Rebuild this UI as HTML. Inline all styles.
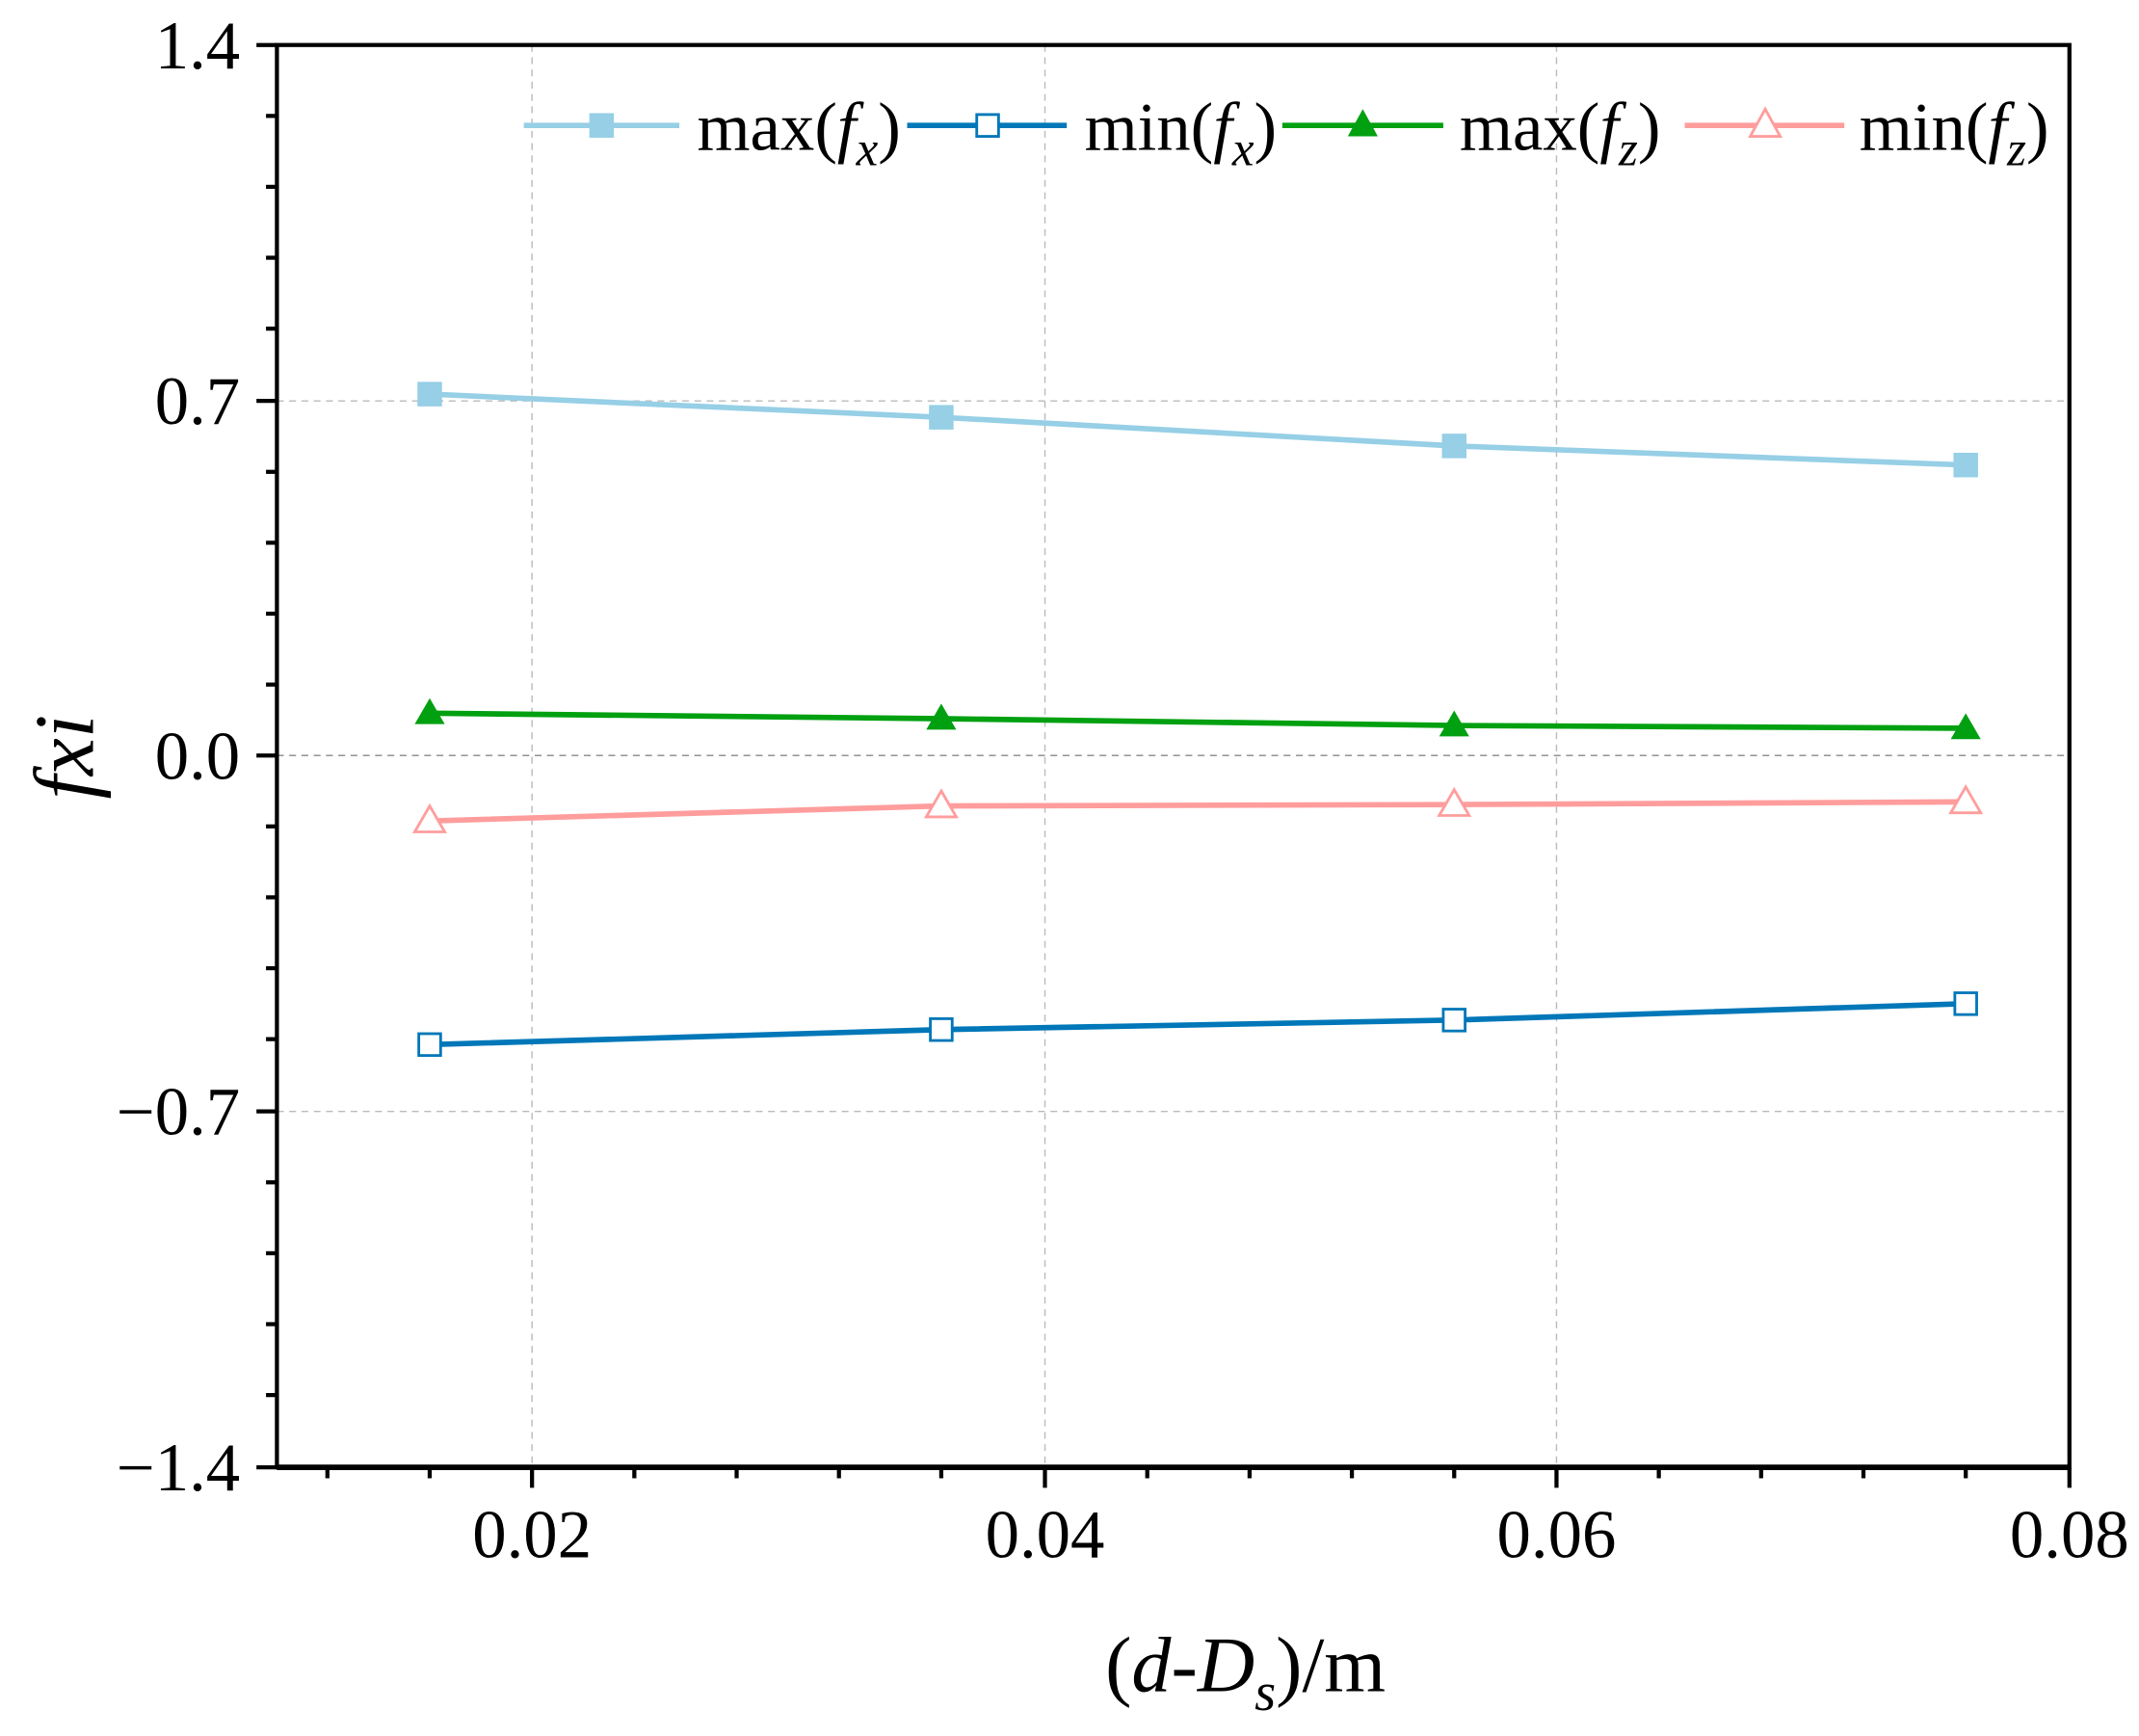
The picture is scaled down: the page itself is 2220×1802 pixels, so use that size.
<!DOCTYPE html>
<html><head><style>html,body{margin:0;padding:0;background:#fff}svg{display:block}text{font-family:"Liberation Serif","Times New Roman",serif}</style></head>
<body>
<svg width="2220" height="1802" viewBox="0 0 1568 1273" preserveAspectRatio="none" xmlns="http://www.w3.org/2000/svg">
<g stroke="#bbb" stroke-width="1" stroke-dasharray="5,4">
<line x1="390" y1="33" x2="390" y2="1076"/><line x1="766" y1="33" x2="766" y2="1076"/><line x1="1141" y1="33" x2="1141" y2="1076"/>
<line x1="203" y1="294" x2="1517" y2="294"/><line x1="203" y1="815" x2="1517" y2="815"/>
</g>
<line x1="203" y1="554" x2="1517" y2="554" stroke="#888" stroke-width="1" stroke-dasharray="5,4"/>
<g stroke="#000" stroke-width="3">
<rect x="203" y="33" width="1314" height="1043" fill="none"/>
<line x1="203" y1="1076" x2="1517" y2="1076" stroke-width="4"/>
<line x1="188" y1="33" x2="203" y2="33"/><line x1="188" y1="294" x2="203" y2="294"/><line x1="188" y1="554" x2="203" y2="554"/><line x1="188" y1="815" x2="203" y2="815"/><line x1="188" y1="1076" x2="203" y2="1076"/>
<line x1="195" y1="85" x2="203" y2="85"/><line x1="195" y1="137" x2="203" y2="137"/><line x1="195" y1="189" x2="203" y2="189"/><line x1="195" y1="241" x2="203" y2="241"/>
<line x1="195" y1="346" x2="203" y2="346"/><line x1="195" y1="398" x2="203" y2="398"/><line x1="195" y1="450" x2="203" y2="450"/><line x1="195" y1="502" x2="203" y2="502"/>
<line x1="195" y1="606" x2="203" y2="606"/><line x1="195" y1="658" x2="203" y2="658"/><line x1="195" y1="710" x2="203" y2="710"/><line x1="195" y1="762" x2="203" y2="762"/>
<line x1="195" y1="867" x2="203" y2="867"/><line x1="195" y1="919" x2="203" y2="919"/><line x1="195" y1="971" x2="203" y2="971"/><line x1="195" y1="1023" x2="203" y2="1023"/>
<line x1="390" y1="1076" x2="390" y2="1091"/><line x1="766" y1="1076" x2="766" y2="1091"/><line x1="1141" y1="1076" x2="1141" y2="1091"/><line x1="1517" y1="1076" x2="1517" y2="1091"/>
<line x1="240" y1="1076" x2="240" y2="1084"/><line x1="315" y1="1076" x2="315" y2="1084"/><line x1="465" y1="1076" x2="465" y2="1084"/><line x1="540" y1="1076" x2="540" y2="1084"/><line x1="615" y1="1076" x2="615" y2="1084"/><line x1="690" y1="1076" x2="690" y2="1084"/><line x1="841" y1="1076" x2="841" y2="1084"/><line x1="916" y1="1076" x2="916" y2="1084"/><line x1="991" y1="1076" x2="991" y2="1084"/><line x1="1066" y1="1076" x2="1066" y2="1084"/><line x1="1216" y1="1076" x2="1216" y2="1084"/><line x1="1291" y1="1076" x2="1291" y2="1084"/><line x1="1366" y1="1076" x2="1366" y2="1084"/><line x1="1441" y1="1076" x2="1441" y2="1084"/>
</g>
<g font-size="50" text-anchor="end" fill="#000">
<text x="176" y="50">1.4</text><text x="176" y="311">0.7</text><text x="176" y="571">0.0</text><text x="176" y="832">−0.7</text><text x="176" y="1093">−1.4</text>
</g>
<g font-size="50" text-anchor="middle">
<text x="390" y="1142">0.02</text><text x="766" y="1142">0.04</text><text x="1141" y="1142">0.06</text><text x="1517" y="1142">0.08</text>
</g>
<text x="913" y="1240" font-size="58" text-anchor="middle">(<tspan font-style="italic">d</tspan>-<tspan font-style="italic">D</tspan><tspan font-style="italic" font-size="40" dy="14">s</tspan><tspan dy="-14">)/m</tspan></text>
<text transform="translate(68,555) rotate(-90)" font-size="62" text-anchor="middle" font-style="italic">fxi</text>
<polyline points="315,289 690,306 1066,327 1441,341" fill="none" stroke="#96cfe6" stroke-width="4"/>
<g fill="#96cfe6"><rect x="306" y="280" width="18" height="18"/><rect x="681" y="297" width="18" height="18"/><rect x="1057" y="318" width="18" height="18"/><rect x="1432" y="332" width="18" height="18"/></g>
<polyline points="315,523 690,527 1066,532 1441,534" fill="none" stroke="#00a010" stroke-width="4"/>
<g fill="#00a010"><polygon points="315,512 326,531 304,531"/><polygon points="690,516 701,535 679,535"/><polygon points="1066,521 1077,540 1055,540"/><polygon points="1441,523 1452,542 1430,542"/></g>
<polyline points="315,602 690,591 1066,590 1441,588" fill="none" stroke="#ff9d9d" stroke-width="4"/>
<g fill="#fff" stroke="#ff9d9d" stroke-width="2"><polygon points="315,591 326,610 304,610"/><polygon points="690,580 701,599 679,599"/><polygon points="1066,579 1077,598 1055,598"/><polygon points="1441,577 1452,596 1430,596"/></g>
<polyline points="315,766 690,755 1066,748 1441,736" fill="none" stroke="#0077b8" stroke-width="4"/>
<g fill="#fff" stroke="#0077b8" stroke-width="2"><rect x="307" y="758" width="16" height="16"/><rect x="682" y="747" width="16" height="16"/><rect x="1058" y="740" width="16" height="16"/><rect x="1433" y="728" width="16" height="16"/></g>
<line x1="384" y1="92" x2="498" y2="92" stroke="#96cfe6" stroke-width="4"/><rect x="432" y="83" width="18" height="18" fill="#96cfe6"/>
<line x1="665" y1="92" x2="782" y2="92" stroke="#0077b8" stroke-width="4"/><rect x="716" y="84" width="16" height="16" fill="#fff" stroke="#0077b8" stroke-width="2"/>
<line x1="940" y1="92" x2="1058" y2="92" stroke="#00a010" stroke-width="4"/><polygon points="999,80 1010,100 988,100" fill="#00a010"/>
<line x1="1235" y1="92" x2="1352" y2="92" stroke="#ff9d9d" stroke-width="4"/><polygon points="1294,80 1305,100 1283,100" fill="#fff" stroke="#ff9d9d" stroke-width="2"/>
<g font-size="50">
<text x="511" y="110">max(<tspan font-style="italic">f</tspan><tspan font-style="italic" font-size="36" dy="11">x</tspan><tspan dy="-11">)</tspan></text>
<text x="795" y="110">min(<tspan font-style="italic">f</tspan><tspan font-style="italic" font-size="36" dy="11">x</tspan><tspan dy="-11">)</tspan></text>
<text x="1070" y="110">max(<tspan font-style="italic">f</tspan><tspan font-style="italic" font-size="36" dy="11">z</tspan><tspan dy="-11">)</tspan></text>
<text x="1363" y="110">min(<tspan font-style="italic">f</tspan><tspan font-style="italic" font-size="36" dy="11">z</tspan><tspan dy="-11">)</tspan></text>
</g>
</svg>
</body></html>
